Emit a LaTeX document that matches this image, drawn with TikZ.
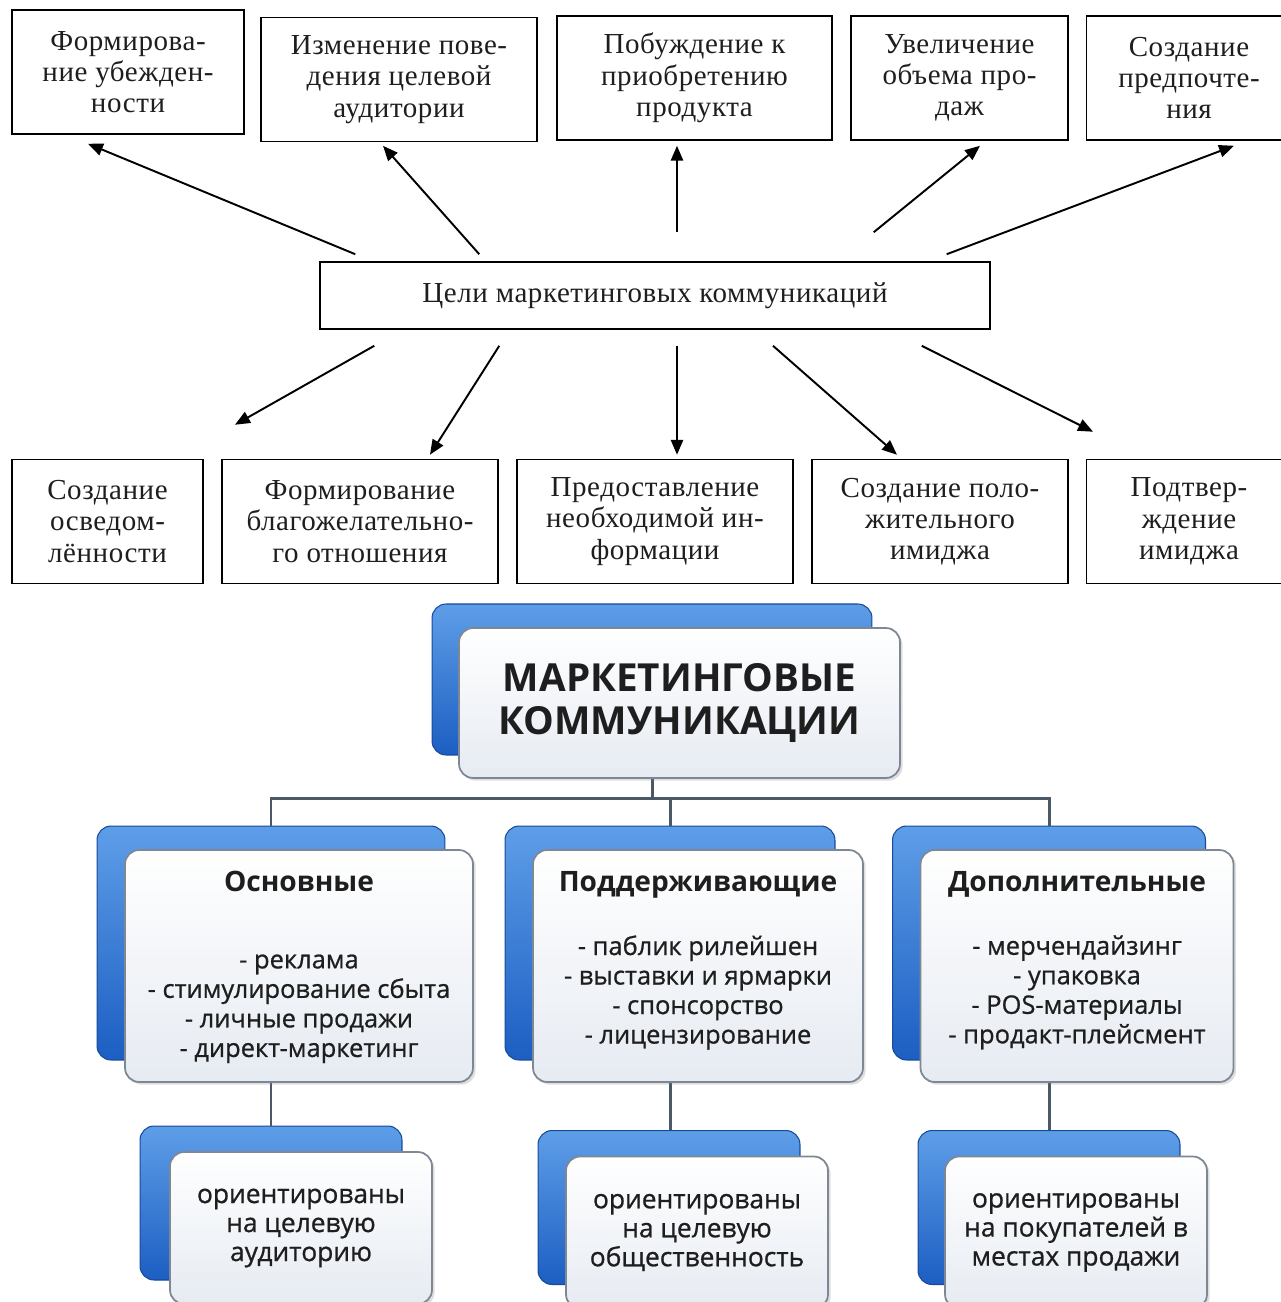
\documentclass[tikz,border=0pt]{standalone}
\usepackage{fontspec}
\setmainfont{Liberation Serif}[LetterSpace=2]
\newfontfamily\opensans{Open Sans}
\newfontfamily\opensansmid[FakeBold=0.8]{Open Sans}
\usepackage{tikz}
\usetikzlibrary{arrows.meta, positioning, calc, shadows}
\definecolor{mkblue}{RGB}{28,94,194}
\definecolor{mklightblue}{RGB}{94,158,232}
\definecolor{mkpale}{RGB}{230,235,242}
\definecolor{mkedge}{RGB}{126,136,148}
\definecolor{mkline}{RGB}{74,88,104}
\definecolor{mktext}{RGB}{30,30,30}
\tikzset{
  %% ---- goal boxes ----
  goal/.style   = {rectangle, draw=black, line width=0.9pt, fill=white,
                   minimum width=#1, minimum height=2.48cm, align=center,
                   inner sep=0pt, text=mktext,
                   font=\fontsize{16.5}{17.8}\selectfont},
  goal/.default = 5.5cm,
  %% ---- cards ----
  cardsize/.style 2 args = {minimum width=#1, minimum height=#2},
  backcard/.style  = {rectangle, rounded corners=8pt,
                   draw=mkblue!80!black, line width=0.6pt,
                   top color=mklightblue, bottom color=mkblue},
  frontcard/.style = {rectangle, rounded corners=8pt,
                   draw=mkedge, line width=1pt,
                   top color=white, bottom color=mkpale,
                   drop shadow={opacity=0.25, shadow xshift=1.5pt, shadow yshift=-1.5pt},
                   align=center, text=mktext, inner sep=0pt},
  cathead/.style  = {inner sep=0pt, text=mktext,
                   font=\opensans\bfseries\fontsize{16}{18}\selectfont},
  catlist/.style  = {inner sep=0pt, align=center, text=mktext,
                   font=\opensansmid\fontsize{14.5}{16.8}\selectfont},
  %% ---- arrows ----
  arr/.style  = {-{Triangle[length=8.5pt, width=7pt]}, line width=1.1pt},
  tree/.style = {line width=1.7pt, color=mkline},
}

\begin{document}
\begin{tikzpicture}[x=0.02cm, y=-0.02cm]
\useasboundingbox (0,0) rectangle (1281,1302);
\clip (0,0) rectangle (1281,1302);
%% ---- goals ----
\node[goal, minimum width=13.4cm, minimum height=1.34cm] (goals) at (655,295.5)
  {Цели маркетинговых коммуникаций};
\node[goal=4.64cm] (conviction) at (128,72)    {Формирова-\\ние убежден-\\ности};
\node[goal=5.52cm] (behaviour)  at (399,79.5)  {Изменение пове-\\дения целевой\\аудитории};
\node[goal=5.5cm]  (purchase)   at (694.5,78)  {Побуждение к\\приобретению\\продукта};
\node[goal=4.34cm] (sales)      at (959.5,78)  {Увеличение\\объема про-\\даж};
\node[goal=4.1cm]  (preference) at (1189,78)   {Создание\\предпочте-\\ния};
\node[goal=3.82cm] (awareness)  at (107.5,521.5) {Создание\\осведом-\\лённости};
\node[goal=5.52cm] (attitude)   at (360,521.5)   {Формирование\\благожелательно-\\го отношения};
\node[goal=5.52cm] (info)       at (655,521.5)   {Предоставление\\необходимой ин-\\формации};
\node[goal=5.12cm] (posimage)   at (940,521.5)   {Создание поло-\\жительного\\имиджа};
\node[goal=4.1cm]  (confimage)  at (1189,521.5)  {Подтвер-\\ждение\\имиджа};

\draw[arr] ([shift={(36,-7)}]goals.north west)    -- ([shift={(-40,9)}]conviction.south);
\draw[arr] ([shift={(160,-7)}]goals.north west)   -- ([shift={(-16,3.5)}]behaviour.south);
\draw[arr] ([shift={(22,-29)}]goals.north)        -- ([shift={(-17.5,5)}]purchase.south);
\draw[arr] ([shift={(-117,-29)}]goals.north east) -- ([shift={(20.5,5)}]sales.south);
\draw[arr] ([shift={(-44,-7)}]goals.north east)   -- ([shift={(45,5)}]preference.south);
\draw[arr] ([shift={(55,16)}]goals.south west)    -- ([shift={(127.5,-34)}]awareness.north);
\draw[arr] ([shift={(180,16)}]goals.south west)   -- ([shift={(70,-4)}]attitude.north);
\draw[arr] ([shift={(22,16)}]goals.south)         -- ([shift={(22,-4)}]info.north);
\draw[arr] ([shift={(118,16)}]goals.south)        -- ([shift={(-43,-4)}]posimage.north);
\draw[arr] ([shift={(-69,16)}]goals.south east)   -- ([shift={(-96,-27)}]confimage.north);

%% ---- marketing communications ----
\node[backcard, cardsize={8.8cm}{3.02cm}]  (mkback)       at (652,679.5)  {};
\node[backcard, cardsize={6.96cm}{4.68cm}] (basicback)    at (271,943)    {};
\node[backcard, cardsize={6.6cm}{4.68cm}]  (supportback)  at (670,943)    {};
\node[backcard, cardsize={6.26cm}{4.68cm}] (extraback)    at (1049,943)   {};
\node[backcard, cardsize={5.24cm}{3.08cm}] (audienceback) at (271,1203)   {};
\node[backcard, cardsize={5.24cm}{3.08cm}] (publicback)   at (669,1207.5) {};
\node[backcard, cardsize={5.24cm}{3.08cm}] (buyersback)   at (1049,1207.5) {};

\path (mkback.south) ++(0,43) coordinate (split);
\draw[tree] (mkback.south) -- (split);
\draw[tree] (basicback.north) |- (split) -| (extraback.north);
\draw[tree] (supportback.north) -- (supportback.north |- split);
\draw[tree] (basicback.south) -- (basicback.south |- audienceback.north);
\draw[tree] (supportback.south) -- (supportback.south |- publicback.north);
\draw[tree] (extraback.south) -- (extraback.south |- buyersback.north);

\node[frontcard, cardsize={8.82cm}{3cm},
      font=\opensans\bfseries\fontsize{22}{24}\selectfont]
  (mk) at ([shift={(27.5,23.5)}]mkback.center) {МАРКЕТИНГОВЫЕ\\КОММУНИКАЦИИ};
\node[frontcard, cardsize={6.96cm}{4.64cm}] (basic)   at ([shift={(28,23)}]basicback.center)   {};
\node[frontcard, cardsize={6.6cm}{4.64cm}]  (support) at ([shift={(28,23)}]supportback.center) {};
\node[frontcard, cardsize={6.26cm}{4.64cm}] (extra)   at ([shift={(28,23)}]extraback.center)   {};

\node[cathead, below=0.44cm of basic.north]   (basichead)   {Основные};
\node[cathead, below=0.44cm of support.north] (supporthead) {Поддерживающие};
\node[cathead, below=0.44cm of extra.north]   (extrahead)   {Дополнительные};
\node[catlist, below=2.1cm of basic.north]    (basiclist)
  {- реклама\\- стимулирование сбыта\\- личные продажи\\- директ-маркетинг};
\node[catlist, below=1.72cm of support.north] (supportlist)
  {- паблик рилейшен\\- выставки и ярмарки\\- спонсорство\\- лицензирование};
\node[catlist, below=1.72cm of extra.north]   (extralist)
  {- мерчендайзинг\\- упаковка\\- POS-материалы\\- продакт-плейсмент};

\node[frontcard, cardsize={5.24cm}{3.04cm}, font=\opensansmid\fontsize{15}{16.5}\selectfont]
  (audience) at ([shift={(30,25)}]audienceback.center) {ориентированы\\на целевую\\аудиторию};
\node[frontcard, cardsize={5.24cm}{3.04cm}, font=\opensansmid\fontsize{15}{16.5}\selectfont]
  (public) at ([shift={(28,25)}]publicback.center) {ориентированы\\на целевую\\общественность};
\node[frontcard, cardsize={5.24cm}{3.04cm}, font=\opensansmid\fontsize{15}{16.5}\selectfont]
  (buyers) at ([shift={(27,25)}]buyersback.center) {ориентированы\\на покупателей в\\местах продажи};
\end{tikzpicture}
\end{document}
